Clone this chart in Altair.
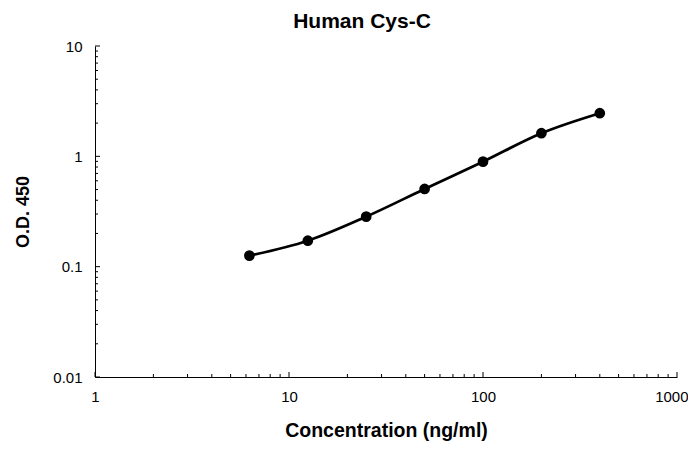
import altair as alt
import pandas as pd

# Data
conc = [6.25, 12.5, 25, 50, 100, 200, 400]
od = [0.126, 0.172, 0.284, 0.506, 0.895, 1.62, 2.46]

x_major = [1, 10, 100, 1000]
x_minor = [m * 10 ** k for k in range(3) for m in range(2, 10)]
y_major = [0.01, 0.1, 1, 10]
y_minor = [m * 10.0 ** k for k in (-2, -1, 0) for m in range(2, 10)]

W, H = 582, 331
FONT = "Liberation Sans"

xs = alt.Scale(type="log", domain=[1, 1000])
ys = alt.Scale(type="log", domain=[0.01, 10])

df = pd.DataFrame({"conc": conc, "od": od})

xaxis = alt.Axis(values=x_major, format="~g", title="Concentration (ng/ml)",
                 ticks=False, grid=False, domainColor="black", domainWidth=1,
                 labelFlush=False,
                 labelAlign={"condition": {"test": "datum.value >= 1000",
                                           "value": "right"},
                             "value": "center"},
                 labelOffset={"condition": {"test": "datum.value >= 1000",
                                            "value": 11},
                              "value": 0},
                 labelPadding=12, titlePadding=17,
                 labelFontSize=15, titleFontSize=19.5, labelColor="black",
                 titleColor="black", labelFont=FONT, titleFont=FONT,
                 titleFontWeight="bold")
yaxis = alt.Axis(values=y_major, format="~g", title="O.D. 450",
                 ticks=False, grid=False, domainColor="black", domainWidth=1,
                 labelPadding=13, titlePadding=20, labelFontSize=15,
                 titleFontSize=18, labelColor="black", titleColor="black",
                 labelFont=FONT, titleFont=FONT, titleFontWeight="bold")

line = alt.Chart(df).mark_line(interpolate="monotone", color="black",
                               strokeWidth=2.75).encode(
    x=alt.X("conc:Q", scale=xs, axis=xaxis),
    y=alt.Y("od:Q", scale=ys, axis=yaxis),
)
pts = alt.Chart(df).mark_point(filled=True, size=115, color="black",
                               opacity=1).encode(
    x=alt.X("conc:Q", scale=xs),
    y=alt.Y("od:Q", scale=ys),
)


def xticks(vals, length):
    return alt.Chart(pd.DataFrame({"conc": vals})).mark_rule(
        color="black", strokeWidth=1).encode(
        x=alt.X("conc:Q", scale=xs),
        y=alt.value(H), y2=alt.value(H - length))


def yticks(vals, length):
    return alt.Chart(pd.DataFrame({"od": vals})).mark_rule(
        color="black", strokeWidth=1).encode(
        y=alt.Y("od:Q", scale=ys),
        x=alt.value(0), x2=alt.value(length))


chart = alt.layer(
    line, pts,
    xticks(x_major, 5), xticks(x_minor, 3),
    yticks(y_major, 5), yticks(y_minor, 3),
).properties(
    width=W, height=H,
    title=alt.TitleParams("Human Cys-C", fontSize=21, font=FONT,
                          fontWeight="bold", dx=-24, offset=7, color="black"),
    padding={"left": 87, "top": 38, "right": 11, "bottom": 64},
    autosize=alt.AutoSizeParams(type="none"),
).configure_view(stroke=None)

chart.save("out.html", embed_options={"renderer": "svg", "actions": False})
